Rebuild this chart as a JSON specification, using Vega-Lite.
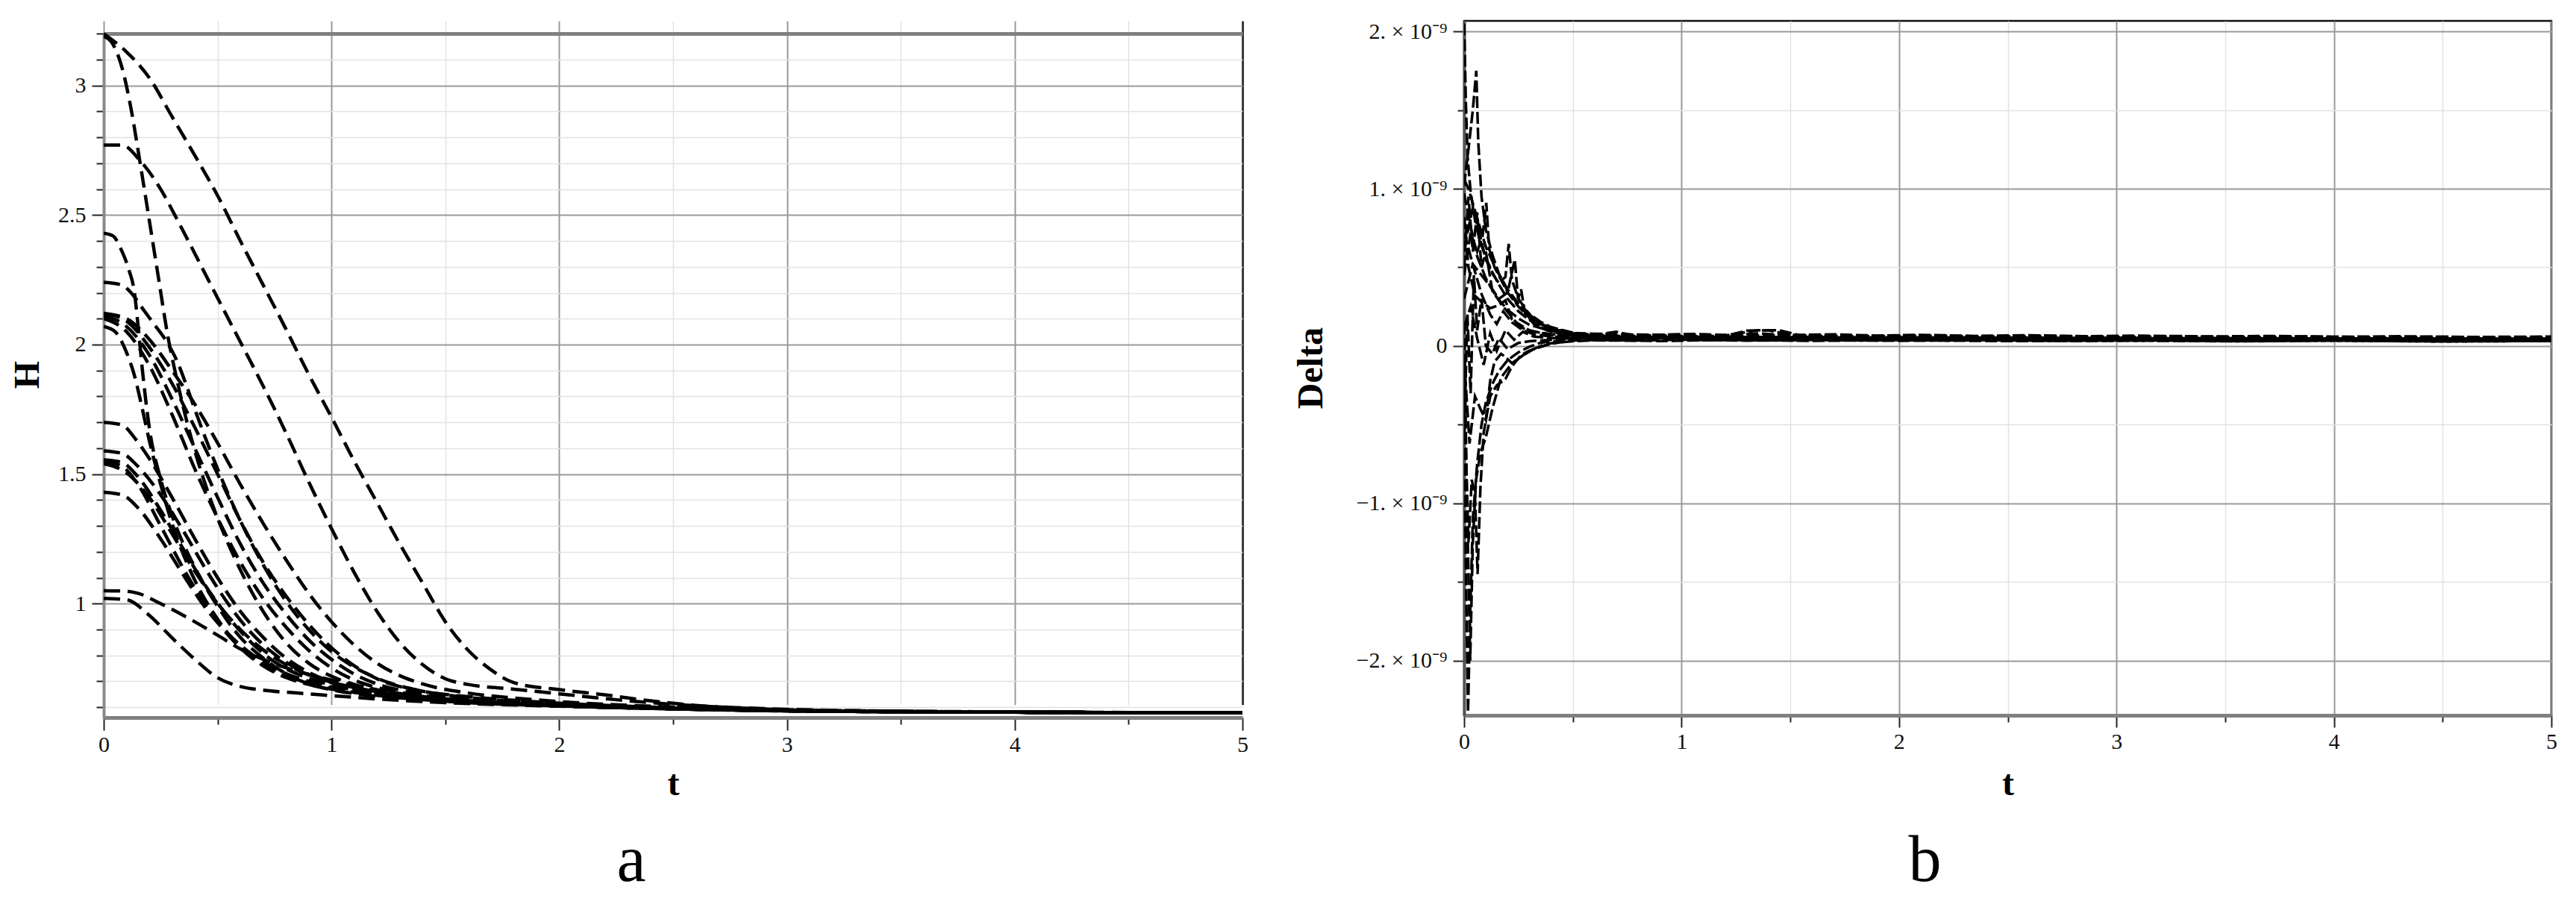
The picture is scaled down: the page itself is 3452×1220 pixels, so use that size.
{
  "$schema": "https://vega.github.io/schema/vega-lite/v6.json",
  "background": "white",
  "padding": {"left": 13, "top": 25, "right": 10, "bottom": 5},
  "bounds": "flush",
  "spacing": 297,
  "config": {
    "font": "Liberation Serif",
    "axis": {
      "labelFont": "Liberation Serif",
      "labelFontSize": 30,
      "labelColor": "#111",
      "labelFlush": false,
      "labelOverlap": false,
      "labelBound": false,
      "tickColor": "#222",
      "tickWidth": 2,
      "titleFont": "Liberation Serif",
      "titleFontSize": 48,
      "titleFontWeight": "bold",
      "titleColor": "#000",
      "grid": true
    },
    "title": {"font": "Liberation Serif", "fontSize": 88, "fontWeight": "normal", "color": "#000"}
  },
  "datasets": {
    "Hdata": [
      {"s":1,"t":0,"H":3.2},{"s":1,"t":0.1,"H":3.13},{"s":1,"t":0.2,"H":3.03},{"s":1,"t":0.3,"H":2.88},{"s":1,"t":0.4,"H":2.73},{"s":1,"t":0.5,"H":2.575},{"s":1,"t":0.6,"H":2.4},{"s":1,"t":0.7,"H":2.23},{"s":1,"t":0.8,"H":2.06},{"s":1,"t":0.9,"H":1.885},{"s":1,"t":1.0,"H":1.72},{"s":1,"t":1.1,"H":1.55},{"s":1,"t":1.2,"H":1.39},{"s":1,"t":1.3,"H":1.23},{"s":1,"t":1.4,"H":1.08},{"s":1,"t":1.5,"H":0.93},{"s":1,"t":1.6,"H":0.82},{"s":1,"t":1.7,"H":0.745},{"s":1,"t":1.8,"H":0.695},{"s":1,"t":2.0,"H":0.668},{"s":1,"t":2.2,"H":0.648},{"s":1,"t":2.4,"H":0.625},{"s":1,"t":2.6,"H":0.607},{"s":1,"t":2.8,"H":0.597},{"s":1,"t":3.0,"H":0.59},{"s":1,"t":3.5,"H":0.584},{"s":1,"t":4.0,"H":0.581},{"s":1,"t":5.0,"H":0.579},
      {"s":2,"t":0,"H":2.77},{"s":2,"t":0.08,"H":2.77},{"s":2,"t":0.16,"H":2.71},{"s":2,"t":0.25,"H":2.6},{"s":2,"t":0.33,"H":2.47},{"s":2,"t":0.43,"H":2.3},{"s":2,"t":0.5,"H":2.18},{"s":2,"t":0.6,"H":2.01},{"s":2,"t":0.7,"H":1.84},{"s":2,"t":0.8,"H":1.66},{"s":2,"t":0.9,"H":1.47},{"s":2,"t":1.0,"H":1.29},{"s":2,"t":1.1,"H":1.12},{"s":2,"t":1.2,"H":0.97},{"s":2,"t":1.3,"H":0.85},{"s":2,"t":1.4,"H":0.765},{"s":2,"t":1.5,"H":0.71},{"s":2,"t":1.6,"H":0.688},{"s":2,"t":1.8,"H":0.67},{"s":2,"t":2.0,"H":0.652},{"s":2,"t":2.3,"H":0.625},{"s":2,"t":2.6,"H":0.606},{"s":2,"t":3.0,"H":0.592},{"s":2,"t":3.5,"H":0.585},{"s":2,"t":4.0,"H":0.581},{"s":2,"t":5.0,"H":0.579},
      {"s":3,"t":0,"H":3.19},{"s":3,"t":0.04,"H":3.16},{"s":3,"t":0.08,"H":3.07},{"s":3,"t":0.12,"H":2.91},{"s":3,"t":0.16,"H":2.7},{"s":3,"t":0.2,"H":2.48},{"s":3,"t":0.24,"H":2.26},{"s":3,"t":0.28,"H":2.04},{"s":3,"t":0.32,"H":1.87},{"s":3,"t":0.36,"H":1.72},{"s":3,"t":0.4,"H":1.59},{"s":3,"t":0.45,"H":1.45},{"s":3,"t":0.5,"H":1.33},{"s":3,"t":0.6,"H":1.13},{"s":3,"t":0.7,"H":0.97},{"s":3,"t":0.8,"H":0.85},{"s":3,"t":0.9,"H":0.77},{"s":3,"t":1.0,"H":0.72},{"s":3,"t":1.1,"H":0.688},{"s":3,"t":1.2,"H":0.668},{"s":3,"t":1.4,"H":0.642},{"s":3,"t":1.7,"H":0.62},{"s":3,"t":2.0,"H":0.607},{"s":3,"t":2.5,"H":0.595},{"s":3,"t":3.0,"H":0.587},{"s":3,"t":4.0,"H":0.581},{"s":3,"t":5.0,"H":0.579},
      {"s":4,"t":0,"H":2.43},{"s":4,"t":0.04,"H":2.42},{"s":4,"t":0.08,"H":2.36},{"s":4,"t":0.11,"H":2.29},{"s":4,"t":0.135,"H":2.2},{"s":4,"t":0.15,"H":2.08},{"s":4,"t":0.17,"H":1.9},{"s":4,"t":0.2,"H":1.68},{"s":4,"t":0.25,"H":1.48},{"s":4,"t":0.3,"H":1.34},{"s":4,"t":0.4,"H":1.14},{"s":4,"t":0.5,"H":0.99},{"s":4,"t":0.6,"H":0.87},{"s":4,"t":0.7,"H":0.79},{"s":4,"t":0.8,"H":0.73},{"s":4,"t":0.9,"H":0.69},{"s":4,"t":1.0,"H":0.668},{"s":4,"t":1.2,"H":0.642},{"s":4,"t":1.5,"H":0.622},{"s":4,"t":2.0,"H":0.605},{"s":4,"t":2.5,"H":0.594},{"s":4,"t":3.0,"H":0.587},{"s":4,"t":4.0,"H":0.581},{"s":4,"t":5.0,"H":0.579},
      {"s":5,"t":0,"H":2.24},{"s":5,"t":0.08,"H":2.23},{"s":5,"t":0.12,"H":2.2},{"s":5,"t":0.17,"H":2.14},{"s":5,"t":0.22,"H":2.08},{"s":5,"t":0.27,"H":2.02},{"s":5,"t":0.32,"H":1.94},{"s":5,"t":0.36,"H":1.85},{"s":5,"t":0.4,"H":1.75},{"s":5,"t":0.5,"H":1.52},{"s":5,"t":0.6,"H":1.32},{"s":5,"t":0.7,"H":1.15},{"s":5,"t":0.8,"H":1.01},{"s":5,"t":0.9,"H":0.9},{"s":5,"t":1.0,"H":0.815},{"s":5,"t":1.1,"H":0.755},{"s":5,"t":1.2,"H":0.712},{"s":5,"t":1.4,"H":0.662},{"s":5,"t":1.6,"H":0.638},{"s":5,"t":2.0,"H":0.612},{"s":5,"t":2.5,"H":0.597},{"s":5,"t":3.0,"H":0.588},{"s":5,"t":4.0,"H":0.581},{"s":5,"t":5.0,"H":0.579},
      {"s":6,"t":0,"H":2.12},{"s":6,"t":0.1,"H":2.1},{"s":6,"t":0.2,"H":2.02},{"s":6,"t":0.3,"H":1.9},{"s":6,"t":0.4,"H":1.77},{"s":6,"t":0.5,"H":1.62},{"s":6,"t":0.6,"H":1.46},{"s":6,"t":0.7,"H":1.31},{"s":6,"t":0.8,"H":1.17},{"s":6,"t":0.9,"H":1.04},{"s":6,"t":1.0,"H":0.93},{"s":6,"t":1.1,"H":0.84},{"s":6,"t":1.2,"H":0.77},{"s":6,"t":1.3,"H":0.722},{"s":6,"t":1.4,"H":0.69},{"s":6,"t":1.6,"H":0.655},{"s":6,"t":1.8,"H":0.636},{"s":6,"t":2.0,"H":0.622},{"s":6,"t":2.5,"H":0.601},{"s":6,"t":3.0,"H":0.59},{"s":6,"t":4.0,"H":0.582},{"s":6,"t":5.0,"H":0.579},
      {"s":7,"t":0,"H":2.12},{"s":7,"t":0.1,"H":2.09},{"s":7,"t":0.2,"H":1.99},{"s":7,"t":0.3,"H":1.85},{"s":7,"t":0.4,"H":1.68},{"s":7,"t":0.5,"H":1.5},{"s":7,"t":0.6,"H":1.32},{"s":7,"t":0.7,"H":1.16},{"s":7,"t":0.8,"H":1.03},{"s":7,"t":0.9,"H":0.92},{"s":7,"t":1.0,"H":0.83},{"s":7,"t":1.1,"H":0.76},{"s":7,"t":1.2,"H":0.71},{"s":7,"t":1.4,"H":0.662},{"s":7,"t":1.6,"H":0.641},{"s":7,"t":1.8,"H":0.627},{"s":7,"t":2.0,"H":0.616},{"s":7,"t":2.5,"H":0.598},{"s":7,"t":3.0,"H":0.588},{"s":7,"t":4.0,"H":0.581},{"s":7,"t":5.0,"H":0.579},
      {"s":8,"t":0,"H":2.11},{"s":8,"t":0.1,"H":2.07},{"s":8,"t":0.2,"H":1.96},{"s":8,"t":0.3,"H":1.79},{"s":8,"t":0.4,"H":1.6},{"s":8,"t":0.5,"H":1.41},{"s":8,"t":0.6,"H":1.23},{"s":8,"t":0.7,"H":1.08},{"s":8,"t":0.8,"H":0.96},{"s":8,"t":0.9,"H":0.86},{"s":8,"t":1.0,"H":0.785},{"s":8,"t":1.1,"H":0.728},{"s":8,"t":1.2,"H":0.69},{"s":8,"t":1.4,"H":0.652},{"s":8,"t":1.6,"H":0.634},{"s":8,"t":2.0,"H":0.611},{"s":8,"t":2.5,"H":0.596},{"s":8,"t":3.0,"H":0.587},{"s":8,"t":4.0,"H":0.581},{"s":8,"t":5.0,"H":0.579},
      {"s":9,"t":0,"H":2.1},{"s":9,"t":0.1,"H":2.05},{"s":9,"t":0.2,"H":1.92},{"s":9,"t":0.3,"H":1.73},{"s":9,"t":0.4,"H":1.52},{"s":9,"t":0.5,"H":1.33},{"s":9,"t":0.6,"H":1.16},{"s":9,"t":0.7,"H":1.02},{"s":9,"t":0.8,"H":0.91},{"s":9,"t":0.9,"H":0.82},{"s":9,"t":1.0,"H":0.752},{"s":9,"t":1.1,"H":0.705},{"s":9,"t":1.2,"H":0.676},{"s":9,"t":1.4,"H":0.645},{"s":9,"t":1.7,"H":0.624},{"s":9,"t":2.0,"H":0.609},{"s":9,"t":2.5,"H":0.595},{"s":9,"t":3.0,"H":0.587},{"s":9,"t":4.0,"H":0.581},{"s":9,"t":5.0,"H":0.579},
      {"s":10,"t":0,"H":2.07},{"s":10,"t":0.05,"H":2.05},{"s":10,"t":0.1,"H":1.97},{"s":10,"t":0.135,"H":1.88},{"s":10,"t":0.17,"H":1.75},{"s":10,"t":0.2,"H":1.63},{"s":10,"t":0.25,"H":1.46},{"s":10,"t":0.3,"H":1.31},{"s":10,"t":0.4,"H":1.09},{"s":10,"t":0.5,"H":0.94},{"s":10,"t":0.6,"H":0.83},{"s":10,"t":0.7,"H":0.76},{"s":10,"t":0.8,"H":0.715},{"s":10,"t":0.9,"H":0.688},{"s":10,"t":1.0,"H":0.67},{"s":10,"t":1.2,"H":0.648},{"s":10,"t":1.5,"H":0.627},{"s":10,"t":2.0,"H":0.607},{"s":10,"t":2.5,"H":0.595},{"s":10,"t":3.0,"H":0.587},{"s":10,"t":4.0,"H":0.581},{"s":10,"t":5.0,"H":0.579},
      {"s":11,"t":0,"H":1.7},{"s":11,"t":0.08,"H":1.69},{"s":11,"t":0.14,"H":1.635},{"s":11,"t":0.2,"H":1.56},{"s":11,"t":0.3,"H":1.41},{"s":11,"t":0.4,"H":1.25},{"s":11,"t":0.5,"H":1.1},{"s":11,"t":0.6,"H":0.97},{"s":11,"t":0.7,"H":0.87},{"s":11,"t":0.8,"H":0.79},{"s":11,"t":0.9,"H":0.735},{"s":11,"t":1.0,"H":0.698},{"s":11,"t":1.2,"H":0.658},{"s":11,"t":1.4,"H":0.636},{"s":11,"t":1.7,"H":0.618},{"s":11,"t":2.0,"H":0.606},{"s":11,"t":2.5,"H":0.594},{"s":11,"t":3.0,"H":0.587},{"s":11,"t":4.0,"H":0.581},{"s":11,"t":5.0,"H":0.579},
      {"s":12,"t":0,"H":1.59},{"s":12,"t":0.08,"H":1.58},{"s":12,"t":0.15,"H":1.53},{"s":12,"t":0.25,"H":1.42},{"s":12,"t":0.35,"H":1.28},{"s":12,"t":0.45,"H":1.13},{"s":12,"t":0.55,"H":0.995},{"s":12,"t":0.65,"H":0.885},{"s":12,"t":0.75,"H":0.805},{"s":12,"t":0.85,"H":0.748},{"s":12,"t":1.0,"H":0.695},{"s":12,"t":1.2,"H":0.657},{"s":12,"t":1.5,"H":0.63},{"s":12,"t":2.0,"H":0.608},{"s":12,"t":2.5,"H":0.595},{"s":12,"t":3.0,"H":0.587},{"s":12,"t":4.0,"H":0.581},{"s":12,"t":5.0,"H":0.579},
      {"s":13,"t":0,"H":1.555},{"s":13,"t":0.08,"H":1.545},{"s":13,"t":0.15,"H":1.49},{"s":13,"t":0.25,"H":1.36},{"s":13,"t":0.35,"H":1.21},{"s":13,"t":0.45,"H":1.065},{"s":13,"t":0.55,"H":0.945},{"s":13,"t":0.65,"H":0.848},{"s":13,"t":0.75,"H":0.775},{"s":13,"t":0.9,"H":0.712},{"s":13,"t":1.0,"H":0.686},{"s":13,"t":1.2,"H":0.651},{"s":13,"t":1.5,"H":0.626},{"s":13,"t":2.0,"H":0.606},{"s":13,"t":2.5,"H":0.594},{"s":13,"t":3.0,"H":0.586},{"s":13,"t":4.0,"H":0.581},{"s":13,"t":5.0,"H":0.579},
      {"s":14,"t":0,"H":1.548},{"s":14,"t":0.08,"H":1.53},{"s":14,"t":0.15,"H":1.46},{"s":14,"t":0.25,"H":1.3},{"s":14,"t":0.35,"H":1.135},{"s":14,"t":0.45,"H":0.99},{"s":14,"t":0.55,"H":0.875},{"s":14,"t":0.65,"H":0.795},{"s":14,"t":0.75,"H":0.74},{"s":14,"t":0.9,"H":0.693},{"s":14,"t":1.0,"H":0.673},{"s":14,"t":1.2,"H":0.646},{"s":14,"t":1.5,"H":0.623},{"s":14,"t":2.0,"H":0.605},{"s":14,"t":2.5,"H":0.594},{"s":14,"t":3.0,"H":0.586},{"s":14,"t":4.0,"H":0.581},{"s":14,"t":5.0,"H":0.579},
      {"s":15,"t":0,"H":1.54},{"s":15,"t":0.1,"H":1.505},{"s":15,"t":0.2,"H":1.41},{"s":15,"t":0.3,"H":1.27},{"s":15,"t":0.4,"H":1.125},{"s":15,"t":0.5,"H":1.0},{"s":15,"t":0.6,"H":0.9},{"s":15,"t":0.7,"H":0.822},{"s":15,"t":0.8,"H":0.765},{"s":15,"t":0.9,"H":0.725},{"s":15,"t":1.0,"H":0.697},{"s":15,"t":1.2,"H":0.66},{"s":15,"t":1.5,"H":0.63},{"s":15,"t":2.0,"H":0.608},{"s":15,"t":2.5,"H":0.595},{"s":15,"t":3.0,"H":0.587},{"s":15,"t":4.0,"H":0.581},{"s":15,"t":5.0,"H":0.579},
      {"s":16,"t":0,"H":1.43},{"s":16,"t":0.08,"H":1.42},{"s":16,"t":0.15,"H":1.37},{"s":16,"t":0.25,"H":1.25},{"s":16,"t":0.35,"H":1.11},{"s":16,"t":0.45,"H":0.98},{"s":16,"t":0.55,"H":0.88},{"s":16,"t":0.65,"H":0.805},{"s":16,"t":0.75,"H":0.75},{"s":16,"t":0.9,"H":0.7},{"s":16,"t":1.0,"H":0.678},{"s":16,"t":1.2,"H":0.649},{"s":16,"t":1.5,"H":0.625},{"s":16,"t":2.0,"H":0.606},{"s":16,"t":2.5,"H":0.594},{"s":16,"t":3.0,"H":0.586},{"s":16,"t":4.0,"H":0.581},{"s":16,"t":5.0,"H":0.579},
      {"s":17,"t":0,"H":1.05},{"s":17,"t":0.1,"H":1.048},{"s":17,"t":0.15,"H":1.04},{"s":17,"t":0.25,"H":1.0},{"s":17,"t":0.33,"H":0.964},{"s":17,"t":0.4,"H":0.93},{"s":17,"t":0.5,"H":0.878},{"s":17,"t":0.6,"H":0.825},{"s":17,"t":0.7,"H":0.785},{"s":17,"t":0.8,"H":0.753},{"s":17,"t":0.9,"H":0.727},{"s":17,"t":1.0,"H":0.705},{"s":17,"t":1.15,"H":0.672},{"s":17,"t":1.3,"H":0.645},{"s":17,"t":1.5,"H":0.627},{"s":17,"t":2.0,"H":0.607},{"s":17,"t":2.5,"H":0.595},{"s":17,"t":3.0,"H":0.587},{"s":17,"t":4.0,"H":0.581},{"s":17,"t":5.0,"H":0.579},
      {"s":18,"t":0,"H":1.02},{"s":18,"t":0.1,"H":1.015},{"s":18,"t":0.2,"H":0.955},{"s":18,"t":0.3,"H":0.868},{"s":18,"t":0.4,"H":0.785},{"s":18,"t":0.5,"H":0.714},{"s":18,"t":0.6,"H":0.68},{"s":18,"t":0.7,"H":0.666},{"s":18,"t":0.85,"H":0.655},{"s":18,"t":1.0,"H":0.645},{"s":18,"t":1.2,"H":0.632},{"s":18,"t":1.5,"H":0.618},{"s":18,"t":2.0,"H":0.604},{"s":18,"t":2.5,"H":0.594},{"s":18,"t":3.0,"H":0.586},{"s":18,"t":4.0,"H":0.581},{"s":18,"t":5.0,"H":0.579}
    ],
    "Ddata": [
      {"s":1,"t":0,"Delta":2.05e-9},{"s":1,"t":0.008,"Delta":1.55e-9},{"s":1,"t":0.016,"Delta":1.2e-9},{"s":1,"t":0.03,"Delta":0.98e-9},{"s":1,"t":0.05,"Delta":0.8e-9},{"s":1,"t":0.07,"Delta":0.68e-9},{"s":1,"t":0.1,"Delta":0.56e-9},{"s":1,"t":0.13,"Delta":0.47e-9},{"s":1,"t":0.16,"Delta":0.39e-9},{"s":1,"t":0.2,"Delta":0.3e-9},{"s":1,"t":0.25,"Delta":0.22e-9},{"s":1,"t":0.3,"Delta":0.165e-9},{"s":1,"t":0.35,"Delta":0.13e-9},{"s":1,"t":0.4,"Delta":0.105e-9},{"s":1,"t":0.45,"Delta":0.09e-9},{"s":1,"t":0.5,"Delta":0.082e-9},{"s":1,"t":0.6,"Delta":0.078e-9},{"s":1,"t":0.75,"Delta":0.074e-9},{"s":1,"t":0.9,"Delta":0.071e-9},{"s":1,"t":1.05,"Delta":0.077e-9},{"s":1,"t":1.2,"Delta":0.07e-9},{"s":1,"t":1.35,"Delta":0.08e-9},{"s":1,"t":1.5,"Delta":0.069e-9},{"s":1,"t":1.7,"Delta":0.074e-9},{"s":1,"t":1.9,"Delta":0.066e-9},{"s":1,"t":2.1,"Delta":0.071e-9},{"s":1,"t":2.35,"Delta":0.064e-9},{"s":1,"t":2.6,"Delta":0.068e-9},{"s":1,"t":2.85,"Delta":0.062e-9},{"s":1,"t":3.1,"Delta":0.066e-9},{"s":1,"t":3.4,"Delta":0.06e-9},{"s":1,"t":3.7,"Delta":0.064e-9},{"s":1,"t":4.0,"Delta":0.058e-9},{"s":1,"t":4.3,"Delta":0.062e-9},{"s":1,"t":4.6,"Delta":0.057e-9},{"s":1,"t":5.0,"Delta":0.06e-9},
      {"s":2,"t":0,"Delta":1.02e-9},{"s":2,"t":0.02,"Delta":1.25e-9},{"s":2,"t":0.04,"Delta":1.5e-9},{"s":2,"t":0.056,"Delta":1.75e-9},{"s":2,"t":0.065,"Delta":1.3e-9},{"s":2,"t":0.08,"Delta":0.95e-9},{"s":2,"t":0.1,"Delta":0.74e-9},{"s":2,"t":0.13,"Delta":0.58e-9},{"s":2,"t":0.16,"Delta":0.46e-9},{"s":2,"t":0.2,"Delta":0.35e-9},{"s":2,"t":0.25,"Delta":0.26e-9},{"s":2,"t":0.3,"Delta":0.19e-9},{"s":2,"t":0.35,"Delta":0.145e-9},{"s":2,"t":0.4,"Delta":0.115e-9},{"s":2,"t":0.5,"Delta":0.082e-9},{"s":2,"t":0.6,"Delta":0.07e-9},{"s":2,"t":0.7,"Delta":0.09e-9},{"s":2,"t":0.8,"Delta":0.062e-9},{"s":2,"t":1.0,"Delta":0.058e-9},{"s":2,"t":1.2,"Delta":0.064e-9},{"s":2,"t":1.3,"Delta":0.098e-9},{"s":2,"t":1.4,"Delta":0.1e-9},{"s":2,"t":1.5,"Delta":0.07e-9},{"s":2,"t":1.7,"Delta":0.058e-9},{"s":2,"t":2.0,"Delta":0.055e-9},{"s":2,"t":2.3,"Delta":0.06e-9},{"s":2,"t":2.6,"Delta":0.052e-9},{"s":2,"t":3.0,"Delta":0.056e-9},{"s":2,"t":3.3,"Delta":0.047e-9},{"s":2,"t":3.6,"Delta":0.052e-9},{"s":2,"t":4.0,"Delta":0.046e-9},{"s":2,"t":4.4,"Delta":0.05e-9},{"s":2,"t":4.7,"Delta":0.044e-9},{"s":2,"t":5.0,"Delta":0.047e-9},
      {"s":3,"t":0,"Delta":0.45e-9},{"s":3,"t":0.03,"Delta":0.72e-9},{"s":3,"t":0.06,"Delta":0.6e-9},{"s":3,"t":0.085,"Delta":0.7e-9},{"s":3,"t":0.102,"Delta":0.91e-9},{"s":3,"t":0.115,"Delta":0.62e-9},{"s":3,"t":0.14,"Delta":0.5e-9},{"s":3,"t":0.17,"Delta":0.42e-9},{"s":3,"t":0.2,"Delta":0.34e-9},{"s":3,"t":0.25,"Delta":0.25e-9},{"s":3,"t":0.3,"Delta":0.18e-9},{"s":3,"t":0.35,"Delta":0.14e-9},{"s":3,"t":0.4,"Delta":0.11e-9},{"s":3,"t":0.5,"Delta":0.08e-9},{"s":3,"t":0.6,"Delta":0.064e-9},{"s":3,"t":0.8,"Delta":0.055e-9},{"s":3,"t":1.0,"Delta":0.06e-9},{"s":3,"t":1.2,"Delta":0.052e-9},{"s":3,"t":1.4,"Delta":0.058e-9},{"s":3,"t":1.6,"Delta":0.05e-9},{"s":3,"t":1.8,"Delta":0.055e-9},{"s":3,"t":2.0,"Delta":0.049e-9},{"s":3,"t":2.3,"Delta":0.054e-9},{"s":3,"t":2.6,"Delta":0.047e-9},{"s":3,"t":3.0,"Delta":0.051e-9},{"s":3,"t":3.4,"Delta":0.045e-9},{"s":3,"t":3.8,"Delta":0.049e-9},{"s":3,"t":4.2,"Delta":0.043e-9},{"s":3,"t":4.6,"Delta":0.047e-9},{"s":3,"t":5.0,"Delta":0.044e-9},
      {"s":4,"t":0,"Delta":0.62e-9},{"s":4,"t":0.04,"Delta":0.88e-9},{"s":4,"t":0.07,"Delta":0.72e-9},{"s":4,"t":0.1,"Delta":0.55e-9},{"s":4,"t":0.13,"Delta":0.46e-9},{"s":4,"t":0.16,"Delta":0.4e-9},{"s":4,"t":0.19,"Delta":0.44e-9},{"s":4,"t":0.205,"Delta":0.65e-9},{"s":4,"t":0.22,"Delta":0.42e-9},{"s":4,"t":0.25,"Delta":0.3e-9},{"s":4,"t":0.3,"Delta":0.2e-9},{"s":4,"t":0.35,"Delta":0.145e-9},{"s":4,"t":0.4,"Delta":0.11e-9},{"s":4,"t":0.5,"Delta":0.078e-9},{"s":4,"t":0.6,"Delta":0.062e-9},{"s":4,"t":0.8,"Delta":0.057e-9},{"s":4,"t":1.0,"Delta":0.052e-9},{"s":4,"t":1.2,"Delta":0.06e-9},{"s":4,"t":1.4,"Delta":0.052e-9},{"s":4,"t":1.6,"Delta":0.058e-9},{"s":4,"t":1.8,"Delta":0.05e-9},{"s":4,"t":2.0,"Delta":0.056e-9},{"s":4,"t":2.3,"Delta":0.048e-9},{"s":4,"t":2.6,"Delta":0.053e-9},{"s":4,"t":3.0,"Delta":0.046e-9},{"s":4,"t":3.4,"Delta":0.05e-9},{"s":4,"t":3.8,"Delta":0.043e-9},{"s":4,"t":4.2,"Delta":0.047e-9},{"s":4,"t":4.6,"Delta":0.042e-9},{"s":4,"t":5.0,"Delta":0.045e-9},
      {"s":5,"t":0,"Delta":0.3e-9},{"s":5,"t":0.04,"Delta":0.52e-9},{"s":5,"t":0.08,"Delta":0.45e-9},{"s":5,"t":0.12,"Delta":0.38e-9},{"s":5,"t":0.16,"Delta":0.3e-9},{"s":5,"t":0.2,"Delta":0.34e-9},{"s":5,"t":0.233,"Delta":0.55e-9},{"s":5,"t":0.248,"Delta":0.3e-9},{"s":5,"t":0.262,"Delta":0.36e-9},{"s":5,"t":0.28,"Delta":0.21e-9},{"s":5,"t":0.32,"Delta":0.14e-9},{"s":5,"t":0.38,"Delta":0.1e-9},{"s":5,"t":0.45,"Delta":0.075e-9},{"s":5,"t":0.5,"Delta":0.065e-9},{"s":5,"t":0.6,"Delta":0.058e-9},{"s":5,"t":0.8,"Delta":0.052e-9},{"s":5,"t":1.0,"Delta":0.057e-9},{"s":5,"t":1.2,"Delta":0.05e-9},{"s":5,"t":1.5,"Delta":0.055e-9},{"s":5,"t":1.8,"Delta":0.048e-9},{"s":5,"t":2.1,"Delta":0.053e-9},{"s":5,"t":2.5,"Delta":0.046e-9},{"s":5,"t":3.0,"Delta":0.05e-9},{"s":5,"t":3.5,"Delta":0.044e-9},{"s":5,"t":4.0,"Delta":0.048e-9},{"s":5,"t":4.5,"Delta":0.042e-9},{"s":5,"t":5.0,"Delta":0.045e-9},
      {"s":6,"t":0,"Delta":1.06e-9},{"s":6,"t":0.02,"Delta":1.0e-9},{"s":6,"t":0.05,"Delta":0.86e-9},{"s":6,"t":0.1,"Delta":0.63e-9},{"s":6,"t":0.15,"Delta":0.48e-9},{"s":6,"t":0.2,"Delta":0.36e-9},{"s":6,"t":0.25,"Delta":0.27e-9},{"s":6,"t":0.3,"Delta":0.205e-9},{"s":6,"t":0.35,"Delta":0.155e-9},{"s":6,"t":0.4,"Delta":0.12e-9},{"s":6,"t":0.5,"Delta":0.085e-9},{"s":6,"t":0.6,"Delta":0.07e-9},{"s":6,"t":0.75,"Delta":0.062e-9},{"s":6,"t":0.9,"Delta":0.068e-9},{"s":6,"t":1.05,"Delta":0.06e-9},{"s":6,"t":1.2,"Delta":0.066e-9},{"s":6,"t":1.35,"Delta":0.1e-9},{"s":6,"t":1.45,"Delta":0.1e-9},{"s":6,"t":1.55,"Delta":0.066e-9},{"s":6,"t":1.75,"Delta":0.058e-9},{"s":6,"t":2.0,"Delta":0.064e-9},{"s":6,"t":2.25,"Delta":0.055e-9},{"s":6,"t":2.5,"Delta":0.06e-9},{"s":6,"t":2.8,"Delta":0.052e-9},{"s":6,"t":3.1,"Delta":0.057e-9},{"s":6,"t":3.4,"Delta":0.05e-9},{"s":6,"t":3.7,"Delta":0.054e-9},{"s":6,"t":4.0,"Delta":0.047e-9},{"s":6,"t":4.3,"Delta":0.052e-9},{"s":6,"t":4.6,"Delta":0.046e-9},{"s":6,"t":5.0,"Delta":0.05e-9},
      {"s":7,"t":0,"Delta":0.97e-9},{"s":7,"t":0.03,"Delta":0.76e-9},{"s":7,"t":0.06,"Delta":0.57e-9},{"s":7,"t":0.1,"Delta":0.43e-9},{"s":7,"t":0.15,"Delta":0.31e-9},{"s":7,"t":0.2,"Delta":0.23e-9},{"s":7,"t":0.25,"Delta":0.175e-9},{"s":7,"t":0.3,"Delta":0.135e-9},{"s":7,"t":0.4,"Delta":0.095e-9},{"s":7,"t":0.5,"Delta":0.072e-9},{"s":7,"t":0.6,"Delta":0.06e-9},{"s":7,"t":0.8,"Delta":0.054e-9},{"s":7,"t":1.0,"Delta":0.05e-9},{"s":7,"t":1.3,"Delta":0.056e-9},{"s":7,"t":1.6,"Delta":0.05e-9},{"s":7,"t":1.9,"Delta":0.054e-9},{"s":7,"t":2.2,"Delta":0.047e-9},{"s":7,"t":2.5,"Delta":0.052e-9},{"s":7,"t":2.8,"Delta":0.045e-9},{"s":7,"t":3.1,"Delta":0.049e-9},{"s":7,"t":3.5,"Delta":0.043e-9},{"s":7,"t":3.9,"Delta":0.047e-9},{"s":7,"t":4.3,"Delta":0.041e-9},{"s":7,"t":4.7,"Delta":0.045e-9},{"s":7,"t":5.0,"Delta":0.042e-9},
      {"s":8,"t":0,"Delta":0.72e-9},{"s":8,"t":0.04,"Delta":0.52e-9},{"s":8,"t":0.08,"Delta":0.33e-9},{"s":8,"t":0.12,"Delta":0.2e-9},{"s":8,"t":0.15,"Delta":0.14e-9},{"s":8,"t":0.18,"Delta":0.22e-9},{"s":8,"t":0.22,"Delta":0.15e-9},{"s":8,"t":0.27,"Delta":0.1e-9},{"s":8,"t":0.32,"Delta":0.075e-9},{"s":8,"t":0.4,"Delta":0.06e-9},{"s":8,"t":0.5,"Delta":0.055e-9},{"s":8,"t":0.7,"Delta":0.05e-9},{"s":8,"t":1.0,"Delta":0.055e-9},{"s":8,"t":1.5,"Delta":0.048e-9},{"s":8,"t":2.0,"Delta":0.052e-9},{"s":8,"t":2.5,"Delta":0.045e-9},{"s":8,"t":3.0,"Delta":0.049e-9},{"s":8,"t":3.5,"Delta":0.043e-9},{"s":8,"t":4.0,"Delta":0.046e-9},{"s":8,"t":4.5,"Delta":0.041e-9},{"s":8,"t":5.0,"Delta":0.044e-9},
      {"s":9,"t":0,"Delta":-0.45e-9},{"s":9,"t":0.008,"Delta":-1.4e-9},{"s":9,"t":0.018,"Delta":-2.33e-9},{"s":9,"t":0.028,"Delta":-1.7e-9},{"s":9,"t":0.04,"Delta":-1.1e-9},{"s":9,"t":0.06,"Delta":-0.75e-9},{"s":9,"t":0.08,"Delta":-0.5e-9},{"s":9,"t":0.1,"Delta":-0.36e-9},{"s":9,"t":0.13,"Delta":-0.24e-9},{"s":9,"t":0.16,"Delta":-0.16e-9},{"s":9,"t":0.2,"Delta":-0.09e-9},{"s":9,"t":0.25,"Delta":-0.04e-9},{"s":9,"t":0.3,"Delta":-0.005e-9},{"s":9,"t":0.35,"Delta":0.02e-9},{"s":9,"t":0.4,"Delta":0.03e-9},{"s":9,"t":0.5,"Delta":0.035e-9},{"s":9,"t":0.6,"Delta":0.038e-9},{"s":9,"t":0.8,"Delta":0.035e-9},{"s":9,"t":1.0,"Delta":0.04e-9},{"s":9,"t":1.3,"Delta":0.034e-9},{"s":9,"t":1.6,"Delta":0.038e-9},{"s":9,"t":2.0,"Delta":0.033e-9},{"s":9,"t":2.4,"Delta":0.037e-9},{"s":9,"t":2.8,"Delta":0.031e-9},{"s":9,"t":3.2,"Delta":0.035e-9},{"s":9,"t":3.6,"Delta":0.03e-9},{"s":9,"t":4.0,"Delta":0.034e-9},{"s":9,"t":4.5,"Delta":0.029e-9},{"s":9,"t":5.0,"Delta":0.032e-9},
      {"s":10,"t":0,"Delta":0.15e-9},{"s":10,"t":0.012,"Delta":-0.9e-9},{"s":10,"t":0.028,"Delta":-2.0e-9},{"s":10,"t":0.04,"Delta":-1.25e-9},{"s":10,"t":0.055,"Delta":-0.85e-9},{"s":10,"t":0.075,"Delta":-0.68e-9},{"s":10,"t":0.1,"Delta":-0.58e-9},{"s":10,"t":0.13,"Delta":-0.4e-9},{"s":10,"t":0.17,"Delta":-0.2e-9},{"s":10,"t":0.22,"Delta":-0.11e-9},{"s":10,"t":0.27,"Delta":-0.06e-9},{"s":10,"t":0.32,"Delta":-0.02e-9},{"s":10,"t":0.4,"Delta":0.015e-9},{"s":10,"t":0.5,"Delta":0.035e-9},{"s":10,"t":0.6,"Delta":0.045e-9},{"s":10,"t":0.8,"Delta":0.05e-9},{"s":10,"t":1.0,"Delta":0.046e-9},{"s":10,"t":1.4,"Delta":0.051e-9},{"s":10,"t":1.8,"Delta":0.046e-9},{"s":10,"t":2.2,"Delta":0.05e-9},{"s":10,"t":2.6,"Delta":0.044e-9},{"s":10,"t":3.0,"Delta":0.048e-9},{"s":10,"t":3.5,"Delta":0.042e-9},{"s":10,"t":4.0,"Delta":0.046e-9},{"s":10,"t":4.5,"Delta":0.041e-9},{"s":10,"t":5.0,"Delta":0.044e-9},
      {"s":11,"t":0,"Delta":-0.25e-9},{"s":11,"t":0.02,"Delta":-1.25e-9},{"s":11,"t":0.035,"Delta":-0.85e-9},{"s":11,"t":0.05,"Delta":-0.95e-9},{"s":11,"t":0.062,"Delta":-1.45e-9},{"s":11,"t":0.075,"Delta":-0.9e-9},{"s":11,"t":0.09,"Delta":-0.55e-9},{"s":11,"t":0.12,"Delta":-0.32e-9},{"s":11,"t":0.15,"Delta":-0.25e-9},{"s":11,"t":0.19,"Delta":-0.21e-9},{"s":11,"t":0.22,"Delta":-0.13e-9},{"s":11,"t":0.26,"Delta":-0.06e-9},{"s":11,"t":0.3,"Delta":-0.03e-9},{"s":11,"t":0.36,"Delta":0.0},{"s":11,"t":0.45,"Delta":0.03e-9},{"s":11,"t":0.5,"Delta":0.04e-9},{"s":11,"t":0.6,"Delta":0.048e-9},{"s":11,"t":0.9,"Delta":0.052e-9},{"s":11,"t":1.2,"Delta":0.047e-9},{"s":11,"t":1.5,"Delta":0.053e-9},{"s":11,"t":1.9,"Delta":0.047e-9},{"s":11,"t":2.3,"Delta":0.051e-9},{"s":11,"t":2.7,"Delta":0.045e-9},{"s":11,"t":3.1,"Delta":0.049e-9},{"s":11,"t":3.6,"Delta":0.043e-9},{"s":11,"t":4.1,"Delta":0.047e-9},{"s":11,"t":4.6,"Delta":0.041e-9},{"s":11,"t":5.0,"Delta":0.044e-9},
      {"s":12,"t":0,"Delta":-0.08e-9},{"s":12,"t":0.025,"Delta":-0.62e-9},{"s":12,"t":0.05,"Delta":-0.32e-9},{"s":12,"t":0.075,"Delta":-0.4e-9},{"s":12,"t":0.1,"Delta":-0.47e-9},{"s":12,"t":0.12,"Delta":-0.22e-9},{"s":12,"t":0.14,"Delta":-0.1e-9},{"s":12,"t":0.17,"Delta":-0.05e-9},{"s":12,"t":0.19,"Delta":-0.07e-9},{"s":12,"t":0.22,"Delta":-0.11e-9},{"s":12,"t":0.25,"Delta":-0.08e-9},{"s":12,"t":0.3,"Delta":-0.03e-9},{"s":12,"t":0.38,"Delta":0.015e-9},{"s":12,"t":0.5,"Delta":0.03e-9},{"s":12,"t":0.6,"Delta":0.036e-9},{"s":12,"t":0.9,"Delta":0.032e-9},{"s":12,"t":1.2,"Delta":0.038e-9},{"s":12,"t":1.6,"Delta":0.033e-9},{"s":12,"t":2.0,"Delta":0.037e-9},{"s":12,"t":2.5,"Delta":0.031e-9},{"s":12,"t":3.0,"Delta":0.035e-9},{"s":12,"t":3.5,"Delta":0.03e-9},{"s":12,"t":4.0,"Delta":0.034e-9},{"s":12,"t":4.5,"Delta":0.029e-9},{"s":12,"t":5.0,"Delta":0.032e-9},
      {"s":13,"t":0,"Delta":0.12e-9},{"s":13,"t":0.03,"Delta":0.25e-9},{"s":13,"t":0.06,"Delta":0.05e-9},{"s":13,"t":0.09,"Delta":-0.12e-9},{"s":13,"t":0.12,"Delta":0.08e-9},{"s":13,"t":0.15,"Delta":-0.03e-9},{"s":13,"t":0.19,"Delta":0.1e-9},{"s":13,"t":0.23,"Delta":0.04e-9},{"s":13,"t":0.27,"Delta":0.09e-9},{"s":13,"t":0.32,"Delta":0.06e-9},{"s":13,"t":0.4,"Delta":0.05e-9},{"s":13,"t":0.5,"Delta":0.052e-9},{"s":13,"t":0.7,"Delta":0.05e-9},{"s":13,"t":1.0,"Delta":0.054e-9},{"s":13,"t":1.5,"Delta":0.049e-9},{"s":13,"t":2.0,"Delta":0.053e-9},{"s":13,"t":2.5,"Delta":0.047e-9},{"s":13,"t":3.0,"Delta":0.05e-9},{"s":13,"t":3.5,"Delta":0.045e-9},{"s":13,"t":4.0,"Delta":0.048e-9},{"s":13,"t":4.5,"Delta":0.043e-9},{"s":13,"t":5.0,"Delta":0.046e-9},
      {"s":14,"t":0,"Delta":0.82e-9},{"s":14,"t":0.02,"Delta":0.5e-9},{"s":14,"t":0.05,"Delta":0.32e-9},{"s":14,"t":0.08,"Delta":0.28e-9},{"s":14,"t":0.12,"Delta":0.24e-9},{"s":14,"t":0.16,"Delta":0.26e-9},{"s":14,"t":0.19,"Delta":0.29e-9},{"s":14,"t":0.22,"Delta":0.17e-9},{"s":14,"t":0.26,"Delta":0.12e-9},{"s":14,"t":0.3,"Delta":0.095e-9},{"s":14,"t":0.4,"Delta":0.075e-9},{"s":14,"t":0.5,"Delta":0.068e-9},{"s":14,"t":0.65,"Delta":0.066e-9},{"s":14,"t":0.9,"Delta":0.072e-9},{"s":14,"t":1.2,"Delta":0.064e-9},{"s":14,"t":1.5,"Delta":0.07e-9},{"s":14,"t":1.8,"Delta":0.062e-9},{"s":14,"t":2.1,"Delta":0.067e-9},{"s":14,"t":2.4,"Delta":0.06e-9},{"s":14,"t":2.7,"Delta":0.065e-9},{"s":14,"t":3.0,"Delta":0.058e-9},{"s":14,"t":3.3,"Delta":0.063e-9},{"s":14,"t":3.6,"Delta":0.056e-9},{"s":14,"t":3.9,"Delta":0.061e-9},{"s":14,"t":4.2,"Delta":0.055e-9},{"s":14,"t":4.5,"Delta":0.059e-9},{"s":14,"t":4.8,"Delta":0.054e-9},{"s":14,"t":5.0,"Delta":0.057e-9},
      {"s":15,"t":0,"Delta":0.5e-9},{"s":15,"t":0.02,"Delta":0.95e-9},{"s":15,"t":0.04,"Delta":0.6e-9},{"s":15,"t":0.06,"Delta":0.85e-9},{"s":15,"t":0.08,"Delta":0.5e-9},{"s":15,"t":0.1,"Delta":0.6e-9},{"s":15,"t":0.13,"Delta":0.35e-9},{"s":15,"t":0.18,"Delta":0.25e-9},{"s":15,"t":0.24,"Delta":0.15e-9},{"s":15,"t":0.3,"Delta":0.1e-9},{"s":15,"t":0.4,"Delta":0.07e-9},{"s":15,"t":0.5,"Delta":0.058e-9},{"s":15,"t":0.8,"Delta":0.055e-9},{"s":15,"t":1.2,"Delta":0.05e-9},{"s":15,"t":1.6,"Delta":0.055e-9},{"s":15,"t":2.0,"Delta":0.049e-9},{"s":15,"t":2.5,"Delta":0.053e-9},{"s":15,"t":3.0,"Delta":0.047e-9},{"s":15,"t":3.5,"Delta":0.05e-9},{"s":15,"t":4.0,"Delta":0.044e-9},{"s":15,"t":4.5,"Delta":0.047e-9},{"s":15,"t":5.0,"Delta":0.043e-9},
      {"s":16,"t":0,"Delta":-0.6e-9},{"s":16,"t":0.015,"Delta":0.2e-9},{"s":16,"t":0.03,"Delta":-0.3e-9},{"s":16,"t":0.045,"Delta":0.45e-9},{"s":16,"t":0.06,"Delta":0.1e-9},{"s":16,"t":0.08,"Delta":0.3e-9},{"s":16,"t":0.1,"Delta":0.0},{"s":16,"t":0.13,"Delta":-0.05e-9},{"s":16,"t":0.16,"Delta":0.05e-9},{"s":16,"t":0.2,"Delta":-0.02e-9},{"s":16,"t":0.25,"Delta":0.02e-9},{"s":16,"t":0.3,"Delta":0.03e-9},{"s":16,"t":0.4,"Delta":0.04e-9},{"s":16,"t":0.5,"Delta":0.05e-9},{"s":16,"t":0.8,"Delta":0.053e-9},{"s":16,"t":1.2,"Delta":0.048e-9},{"s":16,"t":1.6,"Delta":0.052e-9},{"s":16,"t":2.0,"Delta":0.047e-9},{"s":16,"t":2.5,"Delta":0.051e-9},{"s":16,"t":3.0,"Delta":0.046e-9},{"s":16,"t":3.5,"Delta":0.049e-9},{"s":16,"t":4.0,"Delta":0.044e-9},{"s":16,"t":4.5,"Delta":0.047e-9},{"s":16,"t":5.0,"Delta":0.043e-9}
    ]
  },
  "hconcat": [
    {
      "width": 1526,
      "height": 934,
      "view": {"stroke": null},
      "title": {"text": "a", "orient": "bottom", "anchor": "middle", "dx": -56, "offset": 106, "baseline": "alphabetic"},
      "data": {"name": "Hdata"},
      "mark": {"type": "line", "color": "black", "strokeWidth": 4.5, "strokeDash": [22, 10], "interpolate": "monotone", "clip": true},
      "encoding": {
        "x": {
          "field": "t", "type": "quantitative",
          "scale": {"domain": [0, 5], "nice": false, "zero": false},
          "axis": {
            "values": [0, 0.5, 1, 1.5, 2, 2.5, 3, 3.5, 4, 4.5, 5],
            "labelExpr": "datum.value % 1 === 0 ? '' + datum.value : ''",
            "labelPadding": 4,
            "tickSize": {"condition": {"test": "datum.value % 1 === 0", "value": 17}, "value": 9},
            "gridColor": {"condition": [{"test": "datum.value === 5", "value": "#3a3a3a"}, {"test": "datum.value % 1 === 0", "value": "#9a9a9a"}], "value": "#e2e2e2"},
            "gridWidth": {"condition": [{"test": "datum.value === 5", "value": 3}, {"test": "datum.value % 1 === 0", "value": 2}], "value": 1.5},
            "domainColor": "#808080",
            "domainWidth": 5,
            "title": "t",
            "titleY": 103,
            "titleBaseline": "alphabetic"
          }
        },
        "y": {
          "field": "H", "type": "quantitative",
          "scale": {"domain": [0.56, 3.2], "range": [934.1, 17.2], "nice": false, "zero": false},
          "axis": {
            "values": [0.6, 0.7, 0.8, 0.9, 1, 1.1, 1.2, 1.3, 1.4, 1.5, 1.6, 1.7, 1.8, 1.9, 2, 2.1, 2.2, 2.3, 2.4, 2.5, 2.6, 2.7, 2.8, 2.9, 3, 3.1, 3.2],
            "labelExpr": "abs(datum.value*2 - round(datum.value*2)) < 1e-6 ? '' + datum.value : ''",
            "labelPadding": 8,
            "tickSize": {"condition": {"test": "abs(datum.value*2 - round(datum.value*2)) < 1e-6", "value": 16}, "value": 10},
            "gridColor": {"condition": [{"test": "abs(datum.value - 3.2) < 1e-6", "value": "#808080"}, {"test": "abs(datum.value*2 - round(datum.value*2)) < 1e-6", "value": "#9a9a9a"}], "value": "#e2e2e2"},
            "gridWidth": {"condition": [{"test": "abs(datum.value - 3.2) < 1e-6", "value": 5}, {"test": "abs(datum.value*2 - round(datum.value*2)) < 1e-6", "value": 2}], "value": 1.5},
            "domainColor": "#8a8a8a",
            "domainWidth": 4,
            "title": "H",
            "titleX": -102,
            "titleY": 474,
            "titleBaseline": "middle",
            "titleAlign": "center"
          }
        },
        "detail": {"field": "s", "type": "nominal"}
      }
    },
    {
      "width": 1457,
      "height": 931,
      "view": {"stroke": "#111", "strokeWidth": 2.5},
      "title": {"text": "b", "orient": "bottom", "anchor": "middle", "dx": -111, "offset": 106, "baseline": "alphabetic"},
      "data": {"name": "Ddata"},
      "mark": {"type": "line", "color": "black", "strokeWidth": 3.5, "strokeDash": [16, 5], "clip": true},
      "encoding": {
        "x": {
          "field": "t", "type": "quantitative",
          "scale": {"domain": [0, 5], "nice": false, "zero": false},
          "axis": {
            "values": [0, 0.5, 1, 1.5, 2, 2.5, 3, 3.5, 4, 4.5, 5],
            "labelExpr": "datum.value % 1 === 0 ? '' + datum.value : ''",
            "labelPadding": 4,
            "tickSize": {"condition": {"test": "datum.value % 1 === 0", "value": 16}, "value": 9},
            "gridColor": {"condition": {"test": "datum.value % 1 === 0", "value": "#9a9a9a"}, "value": "#e2e2e2"},
            "gridWidth": {"condition": {"test": "datum.value % 1 === 0", "value": 2}, "value": 1.5},
            "domainColor": "#808080",
            "domainWidth": 5,
            "title": "t",
            "titleY": 106,
            "titleBaseline": "alphabetic"
          }
        },
        "y": {
          "field": "Delta", "type": "quantitative",
          "scale": {"domain": [-2.348e-9, 2.067e-9], "nice": false, "zero": false},
          "axis": {
            "values": [-2e-9, -1.5e-9, -1e-9, -5e-10, 0, 5e-10, 1e-9, 1.5e-9, 2e-9],
            "labelExpr": "abs(datum.value) < 1e-15 ? '0' : (abs(datum.value*1e9 - round(datum.value*1e9)) < 1e-6 ? (datum.value < 0 ? '−' : '') + round(abs(datum.value*1e9)) + '. × 10⁻⁹' : '')",
            "labelPadding": 8,
            "tickSize": {"condition": {"test": "abs(datum.value*1e9 - round(datum.value*1e9)) < 1e-6", "value": 15}, "value": 9},
            "gridColor": {"condition": {"test": "abs(datum.value*1e9 - round(datum.value*1e9)) < 1e-6", "value": "#9a9a9a"}, "value": "#e2e2e2"},
            "gridWidth": {"condition": {"test": "abs(datum.value*1e9 - round(datum.value*1e9)) < 1e-6", "value": 2}, "value": 1.5},
            "domainColor": "#555",
            "domainWidth": 4,
            "title": "Delta",
            "titleX": -205,
            "titleY": 465,
            "titleBaseline": "middle",
            "titleAlign": "center"
          }
        },
        "detail": {"field": "s", "type": "nominal"}
      }
    }
  ]
}
